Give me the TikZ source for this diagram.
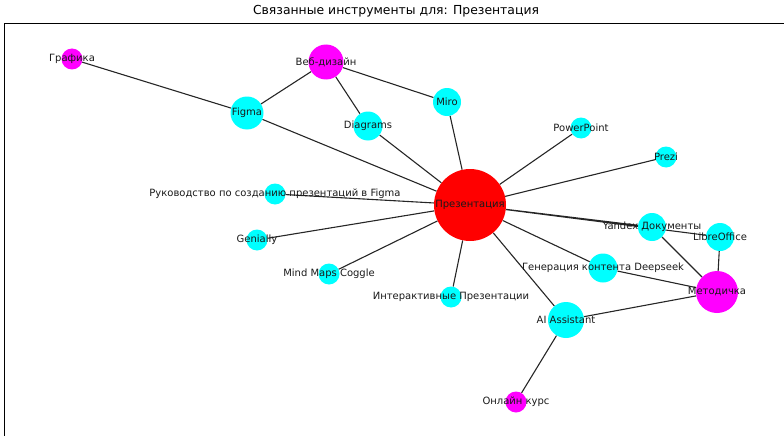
\documentclass[tikz,border=0pt]{standalone}
\usepackage{fontspec}
\setmainfont{DejaVu Sans}
\definecolor{nxcyan}{RGB}{0,255,255}
\definecolor{nxmagenta}{RGB}{255,0,255}
\definecolor{nxred}{RGB}{255,0,0}
\pgfdeclarelayer{bg}
\pgfsetlayers{bg,main}

\begin{document}
\begin{tikzpicture}[x=1pt,y=-1pt,
        p/.style={circle, fill=nxcyan, inner sep=0pt, minimum size=21pt},
        t/.style={p, fill=nxmagenta},
        lbl/.style={font=\fontsize{10}{12}\selectfont, text=black!90},
        e/.style={draw=black!85, line width=1.1pt}]
    \useasboundingbox (0,0) rectangle (784,436);
    \draw[line width=0.9pt] (4.5,436) |- (784,23.5);
    \node[font=\fontsize{12.4}{14}\selectfont] (title) at (396,11)
        {Связанные инструменты для: Презентация};

    % nodes
    \node[p, fill=nxred, minimum size=72pt, label={[lbl]center:Презентация}] (prez) at (470,205) {};
    \node[t, label={[lbl]center:Графика}] (graf) at (72,59) {};
    \node[t, minimum size=35pt, label={[lbl]center:Веб-дизайн}] (web) at (326,62) {};
    \node[p, minimum size=33pt, label={[lbl]center:Figma}] (figma) at (247,113) {};
    \node[p, minimum size=29pt, label={[lbl]center:Diagrams}] (diag) at (368,126) {};
    \node[p, minimum size=28pt, label={[lbl]center:Miro}] (miro) at (447,102) {};
    \node[p, label={[lbl]center:PowerPoint}] (ppt) at (581,128) {};
    \node[p, label={[lbl]center:Prezi}] (prezi) at (666,157) {};
    \node[p, label={[lbl]center:Руководство по созданию презентаций в Figma}] (guide) at (275,194) {};
    \node[p, label={[lbl]center:Genially}] (gen) at (257,240) {};
    \node[p, label={[lbl]center:Mind Maps Coggle}] (mind) at (329,274) {};
    \node[p, label={[lbl]center:Интерактивные Презентации}] (inter) at (451,297) {};
    \node[p, minimum size=36pt, label={[lbl]center:AI Assistant}] (ai) at (566,320) {};
    \node[t, label={[lbl]center:Онлайн курс}] (course) at (516,402) {};
    \node[p, minimum size=29pt, label={[lbl]center:Генерация контента Deepseek}] (deep) at (603,268) {};
    \node[p, minimum size=28pt, label={[lbl]center:Yandex Документы}] (yandex) at (652,227) {};
    \node[p, minimum size=28pt, label={[lbl]center:LibreOffice}] (libre) at (720,237) {};
    \node[t, minimum size=42pt, label={[lbl]center:Методичка}] (metod) at (717,292) {};

    % edges
    \begin{pgfonlayer}{bg}
    \draw[e] (graf) -- (figma)
        (figma) -- (web)
        (figma) -- (prez)
        (web) -- (diag)
        (web) -- (miro)
        (diag) -- (prez)
        (miro) -- (prez)
        (ppt) -- (prez)
        (prezi) -- (prez)
        (guide) -- (prez)
        (gen) -- (prez)
        (mind) -- (prez)
        (inter) -- (prez)
        (ai) -- (prez)
        (ai) -- (course)
        (ai) -- (metod)
        (deep) -- (prez)
        (deep) -- (metod)
        (yandex) -- (prez)
        (libre) -- (prez)
        (yandex) -- (metod)
        (libre) -- (metod);
    \end{pgfonlayer}
\end{tikzpicture}
\end{document}
